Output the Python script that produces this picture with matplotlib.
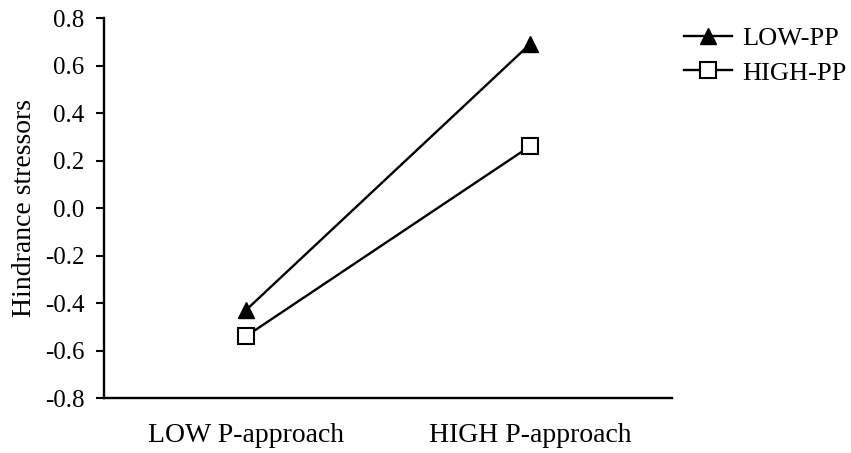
import matplotlib
matplotlib.use("Agg")
import matplotlib.pyplot as plt

plt.rcParams["font.family"] = ["Liberation Serif", "DejaVu Serif"]

conditions = ["LOW P-approach", "HIGH P-approach"]
low_pp = [-0.43, 0.69]
high_pp = [-0.54, 0.26]
y_ticks = [-0.8, -0.6, -0.4, -0.2, 0.0, 0.2, 0.4, 0.6, 0.8]

fig = plt.figure(figsize=(8.51, 4.53), dpi=100)
ax = fig.add_axes([104 / 851, 1 - 398 / 453, 568 / 851, 380 / 453])

x = list(range(len(conditions)))
ax.plot(x, low_pp, color="black", lw=1.7, marker="^", markersize=12,
        markerfacecolor="black", markeredgecolor="black", label="LOW-PP")
ax.plot(x, high_pp, color="black", lw=1.7, marker="s", markersize=11,
        markerfacecolor="white", markeredgecolor="black", markeredgewidth=1.5,
        label="HIGH-PP")

ax.set_xlim(-0.5, 1.5)
ax.set_ylim(-0.8, 0.8)
ax.set_xticks(x)
ax.set_xticklabels(conditions, fontsize=20)
ax.set_yticks(y_ticks)
ax.set_yticklabels([f"{v:.1f}" for v in y_ticks], fontsize=18)
ax.tick_params(axis="x", length=0, pad=18)
ax.tick_params(axis="y", direction="out", length=6, width=1.5, pad=8)
ax.set_ylabel("Hindrance stressors", fontsize=20, labelpad=6)

for side in ["top", "right"]:
    ax.spines[side].set_visible(False)
for side in ["left", "bottom"]:
    ax.spines[side].set_linewidth(1.7)

fig.legend(loc="upper left", bbox_to_anchor=(684 / 851, 1 - 27 / 453),
           frameon=False, fontsize=19, handlelength=1.8, handletextpad=0.4,
           labelspacing=0.4, borderpad=0, borderaxespad=0)

fig.savefig("out.png", dpi=100)
